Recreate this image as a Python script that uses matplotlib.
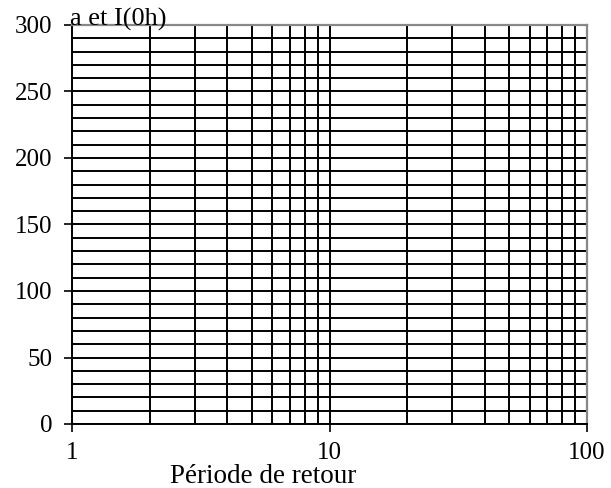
import matplotlib.pyplot as plt
import numpy as np

plt.rcParams['font.family'] = ['Liberation Serif', 'DejaVu Serif']

# axis setup
x_range = [1, 100]
y_range = [0, 300]
y_major = [0, 50, 100, 150, 200, 250, 300]
y_grid_step = 10
x_major = [1, 10, 100]
x_major_labels = ['1', '10', '100']
title = 'a et I(0h)'
xlabel = 'Période de retour'

fig = plt.figure(figsize=(6.11, 4.88), dpi=100)
ax = fig.add_axes([72 / 611, 1 - 424 / 488, (587 - 72) / 611, (424 - 25) / 488])

ax.set_xscale('log')
ax.set_xlim(x_range)
ax.set_ylim(y_range)

# horizontal grid every 10
for y in np.arange(y_range[0], y_range[1] + 1, y_grid_step):
    ax.axhline(y, color='black', lw=1.4, zorder=1)
# vertical grid at 1..9 of each decade
for dec in [1, 10]:
    for k in range(1, 10):
        ax.axvline(k * dec, color='black', lw=1.4, zorder=1)

ax.set_yticks(y_major)
ax.set_xticks(x_major)
ax.set_xticklabels(x_major_labels)
ax.xaxis.set_minor_locator(plt.NullLocator())
ax.tick_params(axis='both', direction='out', length=6, width=1.2, labelsize=18, colors='black')
ax.tick_params(axis='x', pad=7)
ax.tick_params(axis='y', pad=8)

for s in ['left', 'bottom']:
    ax.spines[s].set_color('black')
    ax.spines[s].set_linewidth(1.4)
for s in ['top', 'right']:
    ax.spines[s].set_color('#888888')
    ax.spines[s].set_linewidth(1.6)

fig.text(70 / 611, 1 - 26 / 488, title, fontsize=19, ha='left', va='baseline')
fig.text(263 / 611, 1 - 483 / 488, xlabel, fontsize=19.5, ha='center', va='baseline')

fig.savefig('out.png', dpi=100)
